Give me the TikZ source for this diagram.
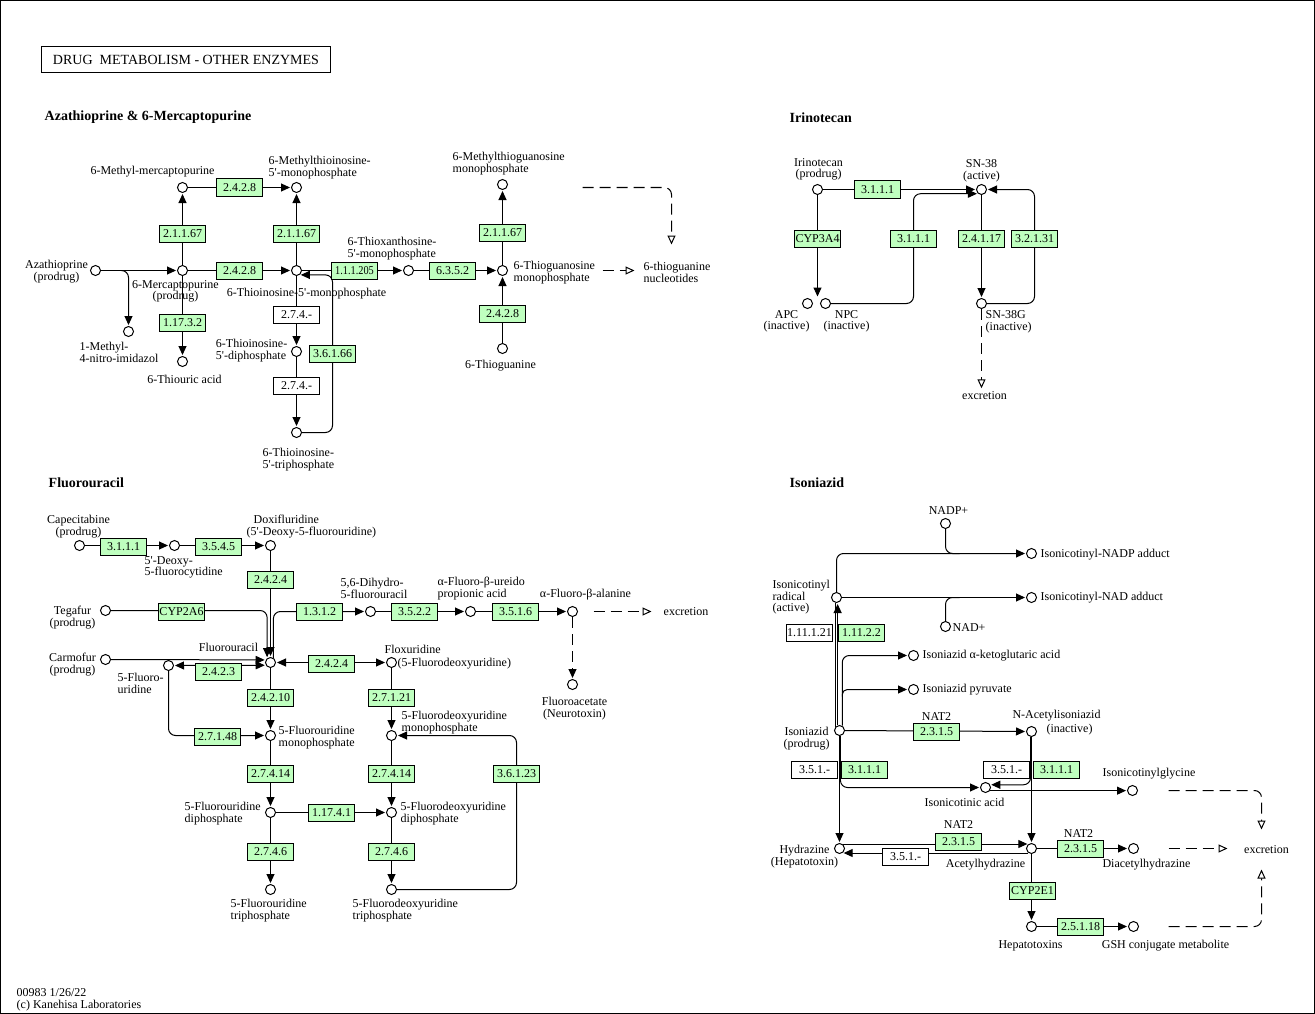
\documentclass[tikz,border=0pt]{standalone}
\usepackage{fontspec}
\setmainfont{Liberation Serif}
\usetikzlibrary{arrows.meta,calc}
\definecolor{enzg}{HTML}{BFFFBF}
\pgfdeclarelayer{bg}
\pgfdeclarelayer{edges}
\pgfsetlayers{bg,edges,main}
\newcommand\kgl{\fontsize{12}{11.6}\selectfont}
\newcommand\kgh{\fontsize{14}{14}\selectfont}
\newcommand\kgb{\fontsize{14}{14}\selectfont\bfseries}
\newcommand\kq{\textquotesingle}
\begin{document}
\begin{tikzpicture}[x=1pt,y=-1pt,
  cpd/.style={circle,draw,fill=white,line width=1pt,inner sep=0pt,minimum size=10pt},
  enz/.style={draw,fill=enzg,line width=1pt,minimum width=46pt,minimum height=17pt,inner sep=0pt,font=\kgl},
  enzw/.style={enz,fill=white},
  lbl/.style={inner sep=0pt,font=\kgl,align=center},
  lbll/.style={lbl,align=left,anchor=west},
  ttl/.style={inner sep=0pt,font=\kgb,anchor=west},
  edge/.style={line width=1pt},
  arr/.style={edge,-{Triangle[length=9pt,width=8pt]},shorten >=1pt},
  arrb/.style={edge,{Triangle[length=9pt,width=8pt]}-{Triangle[length=9pt,width=8pt]},shorten >=1pt,shorten <=1pt},
  darr/.style={edge,dash pattern=on 11pt off 6pt,-{Triangle[open,length=9pt,width=8pt]}},
  darrf/.style={edge,dash pattern=on 11pt off 6pt,-{Triangle[length=9pt,width=8pt]},shorten >=1pt},
  rc/.style={rounded corners=7pt}
]
\useasboundingbox (0,0) rectangle (1315,1014);
\begin{pgfonlayer}{bg}
\fill[white] (0,0) rectangle (1315,1014);
\end{pgfonlayer}
\draw[line width=1pt] (0.5,0.5) rectangle (1314.5,1013.5);
\begin{scope}[shift={(0.5,0.5)}]
% ---------- title ----------
\node[draw,line width=1.6pt,minimum width=289pt,minimum height=26pt,inner sep=0pt,font=\kgh] (title) at (185.5,59) {DRUG\ \ METABOLISM - OTHER ENZYMES};
\node[ttl] (t1) at (44,117) {Azathioprine \& 6-Mercaptopurine};
\node[ttl] (t2) at (789,117) {Irinotecan};
\node[ttl] (t3) at (48,482) {Fluorouracil};
\node[ttl] (t4) at (789,482) {Isoniazid};
\node[lbll] (foot) at (16,999) {00983 1/26/22\\(c) Kanehisa Laboratories};

% ---------- Azathioprine ----------
\node[cpd] (azt) at (95,270) {};
\node[cpd] (mp) at (182,270) {};
\node[cpd] (mmp) at (182,187) {};
\node[cpd] (mtimp) at (296,187) {};
\node[cpd] (timp) at (296,270) {};
\node[cpd] (txmp) at (408,270) {};
\node[cpd] (tgmp) at (502,270) {};
\node[cpd] (mtgmp) at (502,184) {};
\node[cpd] (tg) at (502,348) {};
\node[cpd] (mni) at (128,331) {};
\node[cpd] (tua) at (182,361) {};
\node[cpd] (tidp) at (296,351) {};
\node[cpd] (titp) at (296,432) {};

\node[enz] (a1) at (239,187) {2.4.2.8};
\node[enz] (a2) at (182,233) {2.1.1.67};
\node[enz] (a3) at (296,233) {2.1.1.67};
\node[enz] (a4) at (239,270) {2.4.2.8};
\node[enz] (a5) at (354,270) {\scalebox{0.86}[1]{1.1.1.205}};
\node[enz] (a6) at (452,270) {6.3.5.2};
\node[enz] (a7) at (502,232) {2.1.1.67};
\node[enz] (a8) at (502,313) {2.4.2.8};
\node[enz] (a9) at (182,322) {1.17.3.2};
\node[enzw] (a10) at (296,314) {2.7.4.-};
\node[enzw] (a11) at (296,385) {2.7.4.-};
\node[enz] (a12) at (332,353) {3.6.1.66};

\node[lbl] (l_azt) at (56,271) {Azathioprine\\(prodrug)};
\node[lbl] (l_mp) at (175,291) {6-Mercaptopurine\\(prodrug)};
\node[lbl] (l_mmp) at (152,171) {6-Methyl-mercaptopurine};
\node[lbll] (l_mtimp) at (268,167) {6-Methylthioinosine-\\5\kq-monophosphate};
\node[lbl] (l_timp) at (306,293) {6-Thioinosine-5\kq-monophosphate};
\node[lbll] (l_txmp) at (347,248) {6-Thioxanthosine-\\5\kq-monophosphate};
\node[lbll] (l_tgmp) at (513,272) {6-Thioguanosine\\monophosphate};
\node[lbll] (l_mtgmp) at (452,163) {6-Methylthioguanosine\\monophosphate};
\node[lbl] (l_tg) at (500,365) {6-Thioguanine};
\node[lbll] (l_mni) at (79,352) {1-Methyl-\\4-nitro-imidazol};
\node[lbl] (l_tua) at (184,379) {6-Thiouric acid};
\node[lbl,align=left,anchor=east] (l_tidp) at (287,350) {6-Thioinosine-\\5\kq-diphosphate};
\node[lbll] (l_titp) at (262,459) {6-Thioinosine-\\5\kq-triphosphate};
\node[lbll] (l_tgn) at (643,272) {6-thioguanine\\nucleotides};
\coordinate (tn1) at (602,270);
\coordinate (tn2) at (634,270);
\coordinate (tn3) at (582,187);
\coordinate (tn4) at (671,244);

% ---------- Irinotecan ----------
\node[cpd] (irino) at (817,189) {};
\node[cpd] (sn38) at (981,189) {};
\node[cpd] (apc) at (807,303) {};
\node[cpd] (npc) at (825,303) {};
\node[cpd] (sn38g) at (981,303) {};
\coordinate (apnp) at (817,297);

\node[enz] (i1) at (877,189) {3.1.1.1};
\node[enz] (i2) at (817,238) {CYP3A4};
\node[enz] (i3) at (913,238) {3.1.1.1};
\node[enz] (i4) at (981,238) {2.4.1.17};
\node[enz] (i5) at (1034,238) {3.2.1.31};

\node[lbl] (l_irino) at (818,169) {Irinotecan\\(prodrug)};
\node[lbl] (l_sn38) at (981,170) {SN-38\\(active)};
\node[lbl] (l_apc) at (786,321) {APC\\(inactive)};
\node[lbl] (l_npc) at (846,321) {NPC\\(inactive)};
\node[lbll] (l_sn38g) at (985,321) {SN-38G\\(inactive)};
\node[lbl] (exc1) at (984,395) {excretion};

% ---------- Fluorouracil ----------
\node[cpd] (cape) at (79,545) {};
\node[cpd] (dfcr) at (174,545) {};
\node[cpd] (doxi) at (270,545) {};
\node[cpd] (teg) at (105,610) {};
\node[cpd] (carm) at (105,659) {};
\node[cpd] (fu) at (270,662) {};
\node[cpd] (fur) at (168,665) {};
\node[cpd] (dhfu) at (370,611) {};
\node[cpd] (urei) at (470,611) {};
\node[cpd] (fba) at (572,611) {};
\node[cpd] (fac) at (572,684) {};
\node[cpd] (flox) at (391,662) {};
\node[cpd] (fump) at (270,735) {};
\node[cpd] (fdump) at (391,735) {};
\node[cpd] (fudp) at (270,812) {};
\node[cpd] (fdudp) at (391,812) {};
\node[cpd] (futp) at (270,889) {};
\node[cpd] (fdutp) at (391,889) {};
\coordinate (fx1) at (593,611);
\coordinate (fx2) at (651,611);

\node[enz] (f1) at (123,546) {3.1.1.1};
\node[enz] (f2) at (218,546) {3.5.4.5};
\node[enz] (f3) at (270,579) {2.4.2.4};
\node[enz] (f4) at (181,611) {CYP2A6};
\node[enz] (f5) at (319,611) {1.3.1.2};
\node[enz] (f6) at (414,611) {3.5.2.2};
\node[enz] (f7) at (515,611) {3.5.1.6};
\node[enz] (f8) at (218,671) {2.4.2.3};
\node[enz] (f9) at (331,663) {2.4.2.4};
\node[enz] (f10) at (270,697) {2.4.2.10};
\node[enz] (f11) at (391,697) {2.7.1.21};
\node[enz] (f12) at (217,736) {2.7.1.48};
\node[enz] (f13) at (270,773) {2.7.4.14};
\node[enz] (f14) at (391,773) {2.7.4.14};
\node[enz] (f15) at (516,773) {3.6.1.23};
\node[enz] (f16) at (331,812) {1.17.4.1};
\node[enz] (f17) at (270,851) {2.7.4.6};
\node[enz] (f18) at (391,851) {2.7.4.6};

\node[lbl] (l_cape) at (78,526) {Capecitabine\\(prodrug)};
\node[lbll] (l_dfcr) at (144,567) {5\kq-Deoxy-\\5-fluorocytidine};
\node[lbll] (l_doxi1) at (253,519) {Doxifluridine};
\node[lbll] (l_doxi2) at (246,532) {(5\kq-Deoxy-5-fluorouridine)};
\node[lbl] (l_teg) at (72,617) {Tegafur\\(prodrug)};
\node[lbl] (l_carm) at (72,664) {Carmofur\\(prodrug)};
\node[lbl] (l_fu) at (228,647) {Fluorouracil};
\node[lbll] (l_fur) at (117,683) {5-Fluoro-\\uridine};
\node[lbll] (l_dhfu) at (340,588) {5,6-Dihydro-\\5-fluorouracil};
\node[lbll] (l_urei) at (437,588) {α-Fluoro-β-ureido\\propionic acid};
\node[lbl] (l_fba) at (585,594) {α-Fluoro-β-alanine};
\node[lbll] (exc2) at (663,611) {excretion};
\node[lbl] (l_fac) at (574,708) {Fluoroacetate\\(Neurotoxin)};
\node[lbll] (l_flox1) at (384,649) {Floxuridine};
\node[lbll] (l_flox2) at (397,663) {(5-Fluorodeoxyuridine)};
\node[lbll] (l_fump) at (278,737) {5-Fluorouridine\\monophosphate};
\node[lbll] (l_fdump) at (401,722) {5-Fluorodeoxyuridine\\monophosphate};
\node[lbll] (l_fudp) at (184,813) {5-Fluorouridine\\diphosphate};
\node[lbll] (l_fdudp) at (400,813) {5-Fluorodeoxyuridine\\diphosphate};
\node[lbll] (l_futp) at (230,910) {5-Fluorouridine\\triphosphate};
\node[lbll] (l_fdutp) at (352,910) {5-Fluorodeoxyuridine\\triphosphate};

% ---------- Isoniazid ----------
\node[cpd] (nadp) at (945,523) {};
\node[cpd] (rad) at (836,597) {};
\node[cpd] (nadpa) at (1031,553) {};
\node[cpd] (nada) at (1031,597) {};
\node[cpd] (nad) at (945,626) {};
\node[cpd] (akg) at (913,655) {};
\node[cpd] (pyr) at (913,689) {};
\node[cpd] (isz) at (839,730) {};
\node[cpd] (nai) at (1031,731) {};
\node[cpd] (ina) at (985,787) {};
\node[cpd] (igly) at (1132,790) {};
\node[cpd] (hyd) at (839,848) {};
\node[cpd] (ahz) at (1031,848) {};
\node[cpd] (dah) at (1133,848) {};
\node[cpd] (hep) at (1031,926) {};
\node[cpd] (gsh) at (1133,926) {};

\node[enzw] (n1) at (809,632) {1.11.1.21};
\node[enz] (n2) at (861,632) {1.11.2.2};
\node[enz] (n3) at (936,731) {2.3.1.5};
\node[enzw] (n4) at (814,769) {3.5.1.-};
\node[enz] (n5) at (864,769) {3.1.1.1};
\node[enzw] (n6) at (1006,769) {3.5.1.-};
\node[enz] (n7) at (1056,769) {3.1.1.1};
\node[enz] (n8) at (958,841) {2.3.1.5};
\node[enzw] (n9) at (905,856) {3.5.1.-};
\node[enz] (n10) at (1080,848) {2.3.1.5};
\node[enz] (n11) at (1032,890) {CYP2E1};
\node[enz] (n12) at (1080,926) {2.5.1.18};

\node[lbl] (l_nadp) at (948,510) {NADP+};
\node[lbll] (l_nadpa) at (1040,554) {Isonicotinyl-NADP adduct};
\node[lbll] (l_rad) at (772,597) {Isonicotinyl\\radical\\(active)};
\node[lbll] (l_nada) at (1040,597) {Isonicotinyl-NAD adduct};
\node[lbll] (l_nad) at (952,627) {NAD+};
\node[lbll] (l_akg) at (922,655) {Isoniazid α-ketoglutaric acid};
\node[lbll] (l_pyr) at (922,689) {Isoniazid pyruvate};
\node[lbl] (l_isz) at (806,738) {Isoniazid\\(prodrug)};
\node[lbl] (l_nat1) at (936,716) {NAT2};
\node[lbl] (l_nai1) at (1056,715) {N-Acetylisoniazid};
\node[lbl] (l_nai2) at (1069,729) {(inactive)};
\node[lbl] (l_ina) at (964,802) {Isonicotinic acid};
\node[lbll] (l_igly) at (1102,773) {Isonicotinylglycine};
\node[lbl] (l_hyd) at (804,856) {Hydrazine\\(Hepatotoxin)};
\node[lbl] (l_nat2) at (958,824) {NAT2};
\node[lbl] (l_ahz) at (985,864) {Acetylhydrazine};
\node[lbl] (l_nat3) at (1078,833) {NAT2};
\node[lbl] (l_dah) at (1146,864) {Diacetylhydrazine};
\node[lbl] (exc3) at (1266,849) {excretion};
\node[lbl] (l_hep) at (1030,945) {Hepatotoxins};
\node[lbl] (l_gsh) at (1165,945) {GSH conjugate metabolite};
\coordinate (d1s) at (1168,848);
\coordinate (d1e) at (1227,848);
\coordinate (d2s) at (1168,790);
\coordinate (d2e) at (1261,829);
\coordinate (d3s) at (1168,926);
\coordinate (d3e) at (1261,869);

% ---------- connectors ----------
\begin{pgfonlayer}{edges}
% Azathioprine
\draw[arr] (azt) -- (mp);
\draw[arr,rc] ($(azt)!0.3!(mp)$) -| (mni);
\draw[arr] (mp) -- (mmp);
\draw[arr] (mmp) -- (mtimp);
\draw[arr] (mp) -- (timp);
\draw[arr] (timp) -- (mtimp);
\draw[arr] (timp) -- (txmp);
\draw[arr] (txmp) -- (tgmp);
\draw[arr] (tgmp) -- (mtgmp);
\draw[arr] (tg) -- (tgmp);
\draw[arr] (mp) -- (tua);
\draw[arr] (timp) -- (tidp);
\draw[arr] (tidp) -- (titp);
\draw[arr,rc] (titp) -| (a12.center) |- (timp.-53);
\draw[darr] (tn1) -- (tn2);
\draw[darr,rc] (tn3) -| (tn4);
% Irinotecan
\draw[arr] (irino) -- (sn38);
\draw[arr] (irino) -- (apnp);
\draw[arr,rc] (npc) -| (i3.center) |- (sn38.-130);
\draw[arr] (sn38) -- (sn38g);
\draw[arr,rc] (sn38g) -| (i5.center) |- (sn38);
\draw[darr,shorten >=3pt] (sn38g) -- (sn38g |- exc1.north);
% Fluorouracil
\draw[arr] (cape) -- (dfcr);
\draw[arr] (dfcr) -- (doxi);
\draw[arr] (doxi) -- (fu);
\draw[arr,rc] (teg) -| (fu.128);
\draw[arr] (carm) -- (fu.152);
\draw[arrb] (fur) -- (fu.-150);
\draw[arrb] (fu) -- (flox);
\draw[arr,rc] (fu.58) |- (dhfu);
\draw[arr] (dhfu) -- (urei);
\draw[arr] (urei) -- (fba);
\draw[darr] (fx1) -- (fx2);
\draw[darrf] (fba) -- (fac);
\draw[arr] (fu) -- (fump);
\draw[arr,rc] (fur) |- (fump);
\draw[arr] (flox) -- (fdump);
\draw[arr] (fump) -- (fudp);
\draw[arr] (fudp) -- (futp);
\draw[arr] (fudp) -- (fdudp);
\draw[arr] (fdump) -- (fdudp);
\draw[arr] (fdudp) -- (fdutp);
\draw[arr,rc] (fdutp) -| (f15.center) |- (fdump);
% Isoniazid
\draw[arr,rc] (rad) |- (nadpa);
\draw[edge,rc] (nadp) |- ($(nadp |- nadpa)+(14,0)$);
\draw[arr] (rad) -- (nada);
\draw[edge,rc] (nad) |- ($(nad |- nada)+(14,0)$);
\draw[arr] (isz.110) -- (isz.110 |- rad.south);
\draw[edge] (isz.145) -- (isz.145 |- rad.south);
\draw[arr,rc] (isz.60) |- (akg);
\coordinate (pyb) at ($(isz.60)+(0,-29)$);
\draw[arr,rounded corners=5pt] (pyb) |- (pyr);
\draw[arr] (isz) -- (nai);
\draw[arr] (isz) -- (hyd);
\draw[arr,rc] (isz.-80) |- (ina);
\draw[arr] (nai) -- (ahz);
\draw[arr,rc] (nai.-100) |- (ina.30);
\draw[arr] (ina.-35) -- (ina.-35 -| igly.west);
\draw[arr] (hyd.55) -- (ahz.125);
\draw[arr] (ahz.-125) -- (hyd.-55);
\draw[arr] (ahz) -- (dah);
\draw[arr] (ahz) -- (hep);
\draw[arr] (hep) -- (gsh);
\draw[darr] (d1s) -- (d1e);
\draw[darr,rc] (d2s) -| (d2e);
\draw[darr,rc] (d3s) -| (d3e);
\end{pgfonlayer}
\end{scope}
\end{tikzpicture}
\end{document}
